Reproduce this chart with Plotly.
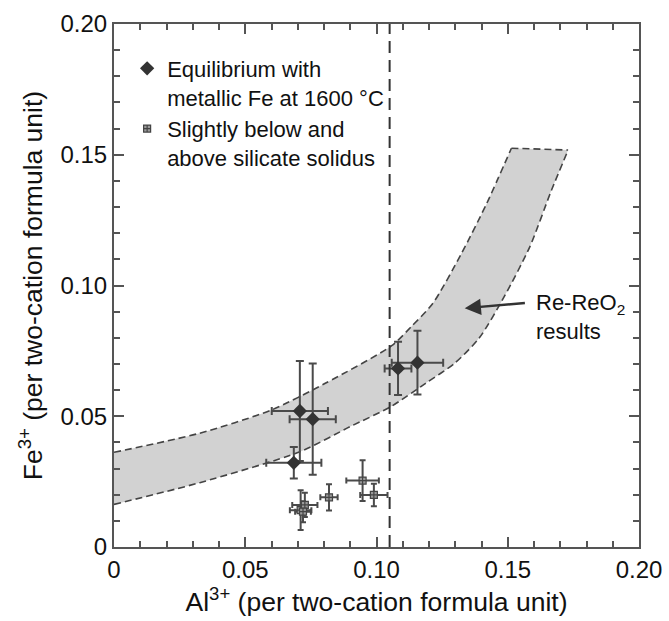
import plotly.graph_objects as go

# ---- data ----
eq_x = [0.0708, 0.0757, 0.0685, 0.1082, 0.1156]
eq_y = [0.0520, 0.0489, 0.0322, 0.0683, 0.0705]
eq_xerr = [0.0107, 0.0088, 0.0105, 0.0051, 0.0098]
eq_yerr = [0.0191, 0.0213, 0.0060, 0.0102, 0.0122]

sol_x = [0.0711, 0.0727, 0.0720, 0.0819, 0.0947, 0.0990]
sol_y = [0.0141, 0.0161, 0.0135, 0.0190, 0.0254, 0.0199]
sol_xerr = [0.0041, 0.0048, 0.0030, 0.0033, 0.0062, 0.0052]
sol_yerr = [0.0076, 0.0046, 0.0040, 0.0050, 0.0078, 0.0043]

band_upper_x = [0.0, 0.0326, 0.0600, 0.0805, 0.1058, 0.1133, 0.1215, 0.1324, 0.1420, 0.1514]
band_upper_y = [0.0362, 0.0435, 0.0524, 0.0626, 0.0770, 0.0843, 0.0932, 0.1123, 0.1314, 0.1525]
band_lower_x = [0.0, 0.0327, 0.0708, 0.0899, 0.1055, 0.1187, 0.1297, 0.1392, 0.1488, 0.1584, 0.1666, 0.1730]
band_lower_y = [0.0163, 0.0246, 0.0364, 0.0460, 0.0537, 0.0626, 0.0702, 0.0800, 0.0960, 0.1148, 0.1363, 0.1518]

solidus_al = 0.105

tick_vals = [0, 0.05, 0.10, 0.15, 0.20]
tick_text = ["0", "0.05", "0.10", "0.15", "0.20"]

arrow_head = (0.1336, 0.0913)
arrow_tail = (0.1571, 0.0934)
label_pos = (0.1600, 0.0880)

FONT = "Liberation Sans, Arial, sans-serif"
DARK = "#333333"
ERR = "#4a4a4a"
BAND_LINE = dict(color="#444444", width=1.6, dash="7px,4px")

fig = go.Figure()

# lower boundary of the band
fig.add_trace(go.Scatter(
    x=band_lower_x, y=band_lower_y, mode="lines",
    line=dict(**BAND_LINE, shape="spline", smoothing=0.7),
    showlegend=False, hoverinfo="skip"))
# upper boundary, filled down to the lower boundary
fig.add_trace(go.Scatter(
    x=band_upper_x, y=band_upper_y, mode="lines", fill="tonexty",
    fillcolor="#d2d2d2",
    line=dict(**BAND_LINE, shape="spline", smoothing=0.7),
    showlegend=False, hoverinfo="skip"))
# top edge of the band
fig.add_trace(go.Scatter(
    x=[band_upper_x[-1], band_lower_x[-1]], y=[band_upper_y[-1], band_lower_y[-1]],
    mode="lines", line=BAND_LINE, showlegend=False, hoverinfo="skip"))

fig.add_trace(go.Scatter(
    x=eq_x, y=eq_y, mode="markers",
    name="Equilibrium with<br>metallic Fe at 1600 °C",
    marker=dict(symbol="diamond", size=11, color=DARK, line=dict(width=0)),
    error_x=dict(type="data", array=eq_xerr, color=ERR, thickness=2, width=4),
    error_y=dict(type="data", array=eq_yerr, color=ERR, thickness=2, width=4)))

fig.add_trace(go.Scatter(
    x=sol_x, y=sol_y, mode="markers",
    name="Slightly below and<br>above silicate solidus",
    marker=dict(symbol="square-cross", size=7, color="#9a9a9a",
                line=dict(width=1.2, color="#444444")),
    error_x=dict(type="data", array=sol_xerr, color=ERR, thickness=2, width=3),
    error_y=dict(type="data", array=sol_yerr, color=ERR, thickness=2, width=3)))

fig.add_shape(type="line", x0=solidus_al, x1=solidus_al, y0=0, y1=0.2,
              xref="x", yref="y",
              line=dict(color=DARK, width=2, dash="12px,7px"))

fig.add_annotation(x=arrow_head[0], y=arrow_head[1], ax=arrow_tail[0], ay=arrow_tail[1],
                   xref="x", yref="y", axref="x", ayref="y", text="",
                   showarrow=True, arrowhead=2, arrowsize=1.3, arrowwidth=2.5,
                   arrowcolor=DARK)
fig.add_annotation(x=label_pos[0], y=label_pos[1], xref="x", yref="y",
                   text="Re-ReO<sub>2</sub><br>results", showarrow=False,
                   xanchor="left", yanchor="middle", align="left",
                   font=dict(family=FONT, size=22, color="#111111"))

axis_common = dict(
    range=[0, 0.2], tickvals=tick_vals, ticktext=tick_text,
    showline=True, linecolor="#555555", linewidth=2, mirror="allticks",
    ticks="inside", ticklen=10, tickwidth=1.5, tickcolor="#555555",
    minor=dict(dtick=0.01, ticks="inside", ticklen=6, tickwidth=1.5, tickcolor="#555555"),
    showgrid=False, zeroline=False, automargin=False,
    tickfont=dict(family=FONT, size=24, color="#111111"),
)

fig.update_xaxes(**axis_common,
                 title=dict(text="Al<sup>3+</sup> (per two-cation formula unit)",
                            font=dict(family=FONT, size=26.5, color="#111111"), standoff=8))
fig.update_yaxes(**axis_common,
                 title=dict(text="Fe<sup>3+</sup> (per two-cation formula unit)",
                            font=dict(family=FONT, size=26.5, color="#111111"), standoff=10))

fig.update_layout(
    width=669, height=621,
    margin=dict(l=114, r=30, t=24, b=74),
    paper_bgcolor="white", plot_bgcolor="white",
    font=dict(family=FONT),
    legend=dict(x=0.025, y=0.955, xanchor="left", yanchor="top",
                bgcolor="rgba(255,255,255,0)", valign="top",
                traceorder="normal",
                font=dict(family=FONT, size=22, color="#111111"),
                tracegroupgap=10),
)

fig.write_html("out.html")
